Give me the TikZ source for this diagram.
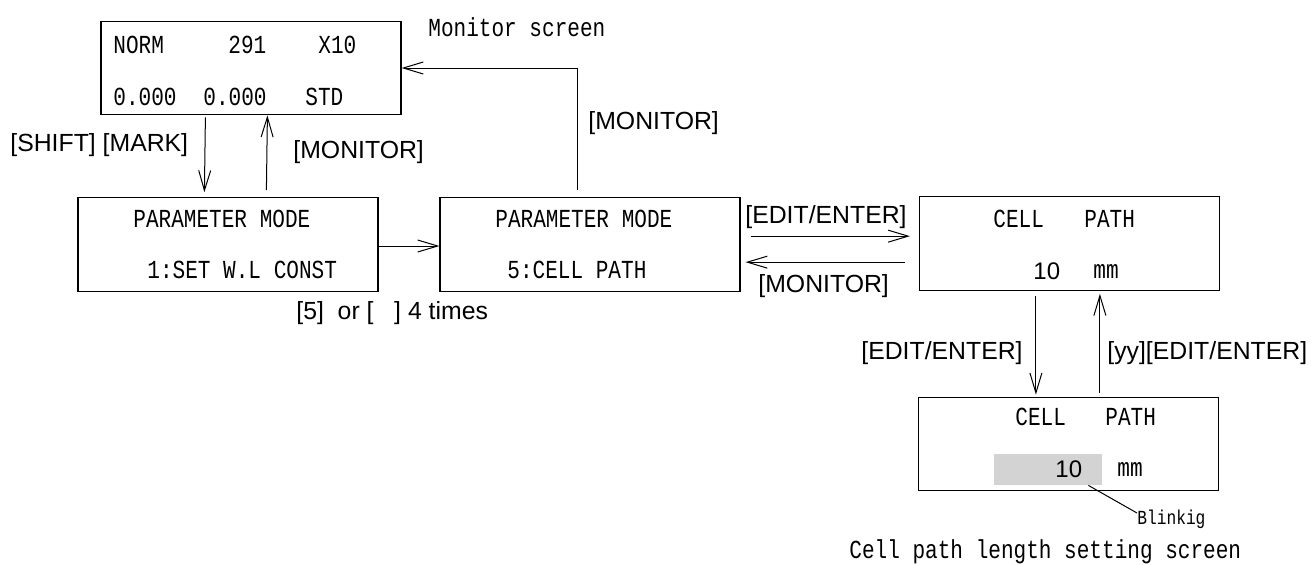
\documentclass[tikz,border=0pt]{standalone}
\usepackage{fontspec}
\setmainfont{Liberation Sans}
\newfontfamily\monof{Liberation Mono}[FakeStretch=0.81]
\usetikzlibrary{arrows.meta,calc}
\definecolor{blinkgray}{RGB}{211,211,211}
\begin{document}
\begin{tikzpicture}[x=0.5pt,y=-0.5pt,
  scr/.style={draw,line width=0.6pt,inner sep=0pt,minimum width=150pt,minimum height=46.75pt},
  arr/.style={line width=0.5pt,-{Straight Barb[length=10pt,width=6pt]}},
  lbl/.style={inner sep=0pt,anchor=west,font=\fontsize{12.4pt}{14pt}\selectfont},
  mono/.style={inner sep=0pt,anchor=west,font=\monof\fontsize{13pt}{15pt}\selectfont},
  small/.style={inner sep=0pt,anchor=west,font=\monof\fontsize{10pt}{11pt}\selectfont},
  digit/.style={inner sep=0pt,anchor=west,font=\fontsize{12pt}{14pt}\selectfont}]
\useasboundingbox (0,0) rectangle (1313,564);

% screens
\node[scr] (mon) at (251,68) {};
\node[scr] (pm1) at (228,244.5) {};
\node[scr] (pm2) at (590,244.5) {};
\node[scr] (cp1) at (1069.5,243.5) {};
\node[scr] (cp2) at (1068.5,444) {};
\node[fill=blinkgray,inner sep=0pt,minimum width=54pt,minimum height=15.5pt] (hl) at (1048,469.5) {};

% monitor screen texts
\node[mono] (t1) at (113,45) {NORM};
\node[mono] (t2) at (228,45) {291};
\node[mono] (t3) at (318,45) {X10};
\node[mono] (t4) at (113,97) {0.000};
\node[mono] (t5) at (203,97) {0.000};
\node[mono] (t6) at (305,97) {STD};
\node[mono] (monlbl) at (428,27) {Monitor screen};

% parameter mode 1
\node[mono] (p1a) at (133,219) {PARAMETER MODE};
\node[mono] (p1b) at (147,270) {1:SET W.L CONST};
% parameter mode 5
\node[mono] (p2a) at (495,219) {PARAMETER MODE};
\node[mono] (p2b) at (507,270) {5:CELL PATH};
% cell path
\node[mono] (c1a) at (993,219) {CELL};
\node[mono] (c1b) at (1084,219) {PATH};
\node[digit] (c1c) at (1033,271) {10};
\node[mono] (c1d) at (1093,271) {mm};
% cell path setting
\node[mono] (c2a) at (1015,417) {CELL};
\node[mono] (c2b) at (1105,417) {PATH};
\node[digit] (c2c) at (1055,469) {10};
\node[mono] (c2d) at (1117,469) {mm};
\node[small] (blk) at (1137,519) {Blinkig};
\node[mono] (cplbl) at (849,552) {Cell path length setting screen};

% key labels
\node[lbl] (k1) at (10,145) {[SHIFT] [MARK]};
\node[lbl] (k2) at (293,152) {[MONITOR]};
\node[lbl] (k3) at (588,123) {[MONITOR]};
\node[lbl] (k4) at (296,313) {[5]\ \ or [\ \ \ ] 4 times};
\node[lbl] (k5) at (745,217) {[EDIT/ENTER]};
\node[lbl] (k6) at (758,286) {[MONITOR]};
\node[lbl] (k7) at (861,353) {[EDIT/ENTER]};
\node[lbl] (k8) at (1107,353) {[yy][EDIT/ENTER]};

% connectors
\draw[arr] ($(mon.south west)+(105,2)$) -- ($(pm1.north west)+(127,-5)$);
\draw[arr] ($(pm1.north west)+(189,-7)$) -- ($(mon.south west)+(167,0)$);
\draw[arr] ($(pm1.east)+(0,1.5)$) -- ($(pm2.west)+(0,1.5)$);
\draw[arr] ($(pm2.north west)+(138,-7)$) |- (mon.east);
\draw[arr] ($(pm2.north east)+(10,39)$) -- ($(cp1.north west)+(-9,40)$);
\draw[arr] ($(cp1.north west)+(-14,66)$) -- ($(pm2.north east)+(5,65)$);
\draw[arr] ($(cp1.south west)+(117,5)$) -- ($(cp2.north west)+(118,-2)$);
\draw[arr] ($(cp2.north west)+(182,-4)$) -- ($(cp1.south west)+(181,3)$);
\draw[line width=0.5pt] ($(hl.south east)+(-14,0)$) -- ($(blk.west)+(0,-6)$);
\end{tikzpicture}
\end{document}
